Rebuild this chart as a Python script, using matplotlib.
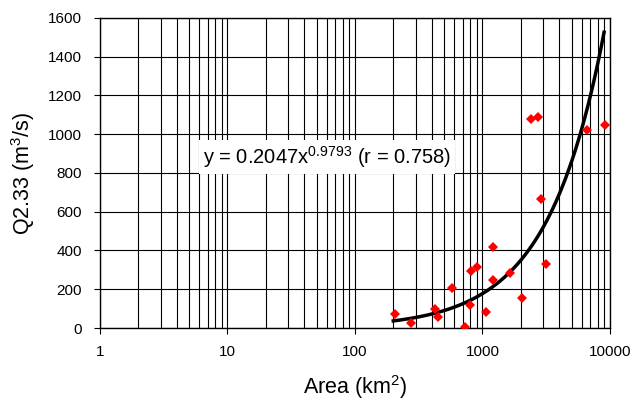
import numpy as np
import matplotlib
matplotlib.use("Agg")
import matplotlib.pyplot as plt
from matplotlib.ticker import LogLocator, NullFormatter

plt.rcParams['font.family'] = ['Liberation Sans', 'DejaVu Sans']
plt.rcParams['mathtext.fontset'] = 'custom'
plt.rcParams['mathtext.rm'] = 'Liberation Sans'
plt.rcParams['mathtext.it'] = 'Liberation Sans'

# Data
area = [206, 275, 424, 448, 576, 729, 798, 813, 906, 1065, 1209, 1209,
        1643, 2042, 2400, 2723, 2876, 3148, 6607, 9140]
q233 = [70, 26, 98, 57, 206, 5, 119, 294, 315, 83, 418, 248,
        284, 155, 1079, 1089, 666, 330, 1022, 1048]
coef_a = 0.2047
coef_b = 0.9793
fit_range = [200, 9000]
x_ticks = [1, 10, 100, 1000, 10000]
y_ticks = [0, 200, 400, 600, 800, 1000, 1200, 1400, 1600]

fig = plt.figure(figsize=(6.36, 4.05), dpi=100)
ax = fig.add_axes([0.157, 0.190, 0.802, 0.766])

ax.set_xscale('log')
ax.set_xlim(1, 10000)
ax.set_ylim(0, 1600)

xf = np.logspace(np.log10(fit_range[0]), np.log10(fit_range[1]), 200)
yf = coef_a * xf ** coef_b

ax.set_xticks(x_ticks)
ax.set_xticklabels([str(t) for t in x_ticks])
ax.xaxis.set_minor_locator(LogLocator(base=10, subs=np.arange(2, 10)))
ax.xaxis.set_minor_formatter(NullFormatter())
ax.set_yticks(y_ticks)

ax.grid(True, which='major', color='black', linewidth=0.8)
ax.grid(True, which='minor', axis='x', color='black', linewidth=0.8)
ax.set_axisbelow(True)

ax.plot(xf, yf, color='black', linewidth=2.5, zorder=3)
ax.plot(area, q233, linestyle='none', marker='D', color='red',
        markersize=5, markeredgewidth=0, zorder=4)

ax.tick_params(axis='both', which='major', direction='out', length=4,
               labelsize=11, color='black')
ax.tick_params(axis='y', which='major', pad=9)
ax.tick_params(axis='x', which='minor', length=0)
ax.tick_params(axis='x', which='major', pad=8)
for s in ax.spines.values():
    s.set_color('black')
    s.set_linewidth(1.0)

ax.set_xlabel(r'Area (km$^{2}$)', fontsize=15.5, labelpad=10)
ax.set_ylabel(r'Q2.33 (m$^{3}$/s)', fontsize=15.5, labelpad=8)

ax.text(0.319, 0.613, r'y = 0.2047x$^{0.9793}$ (r = 0.758)', transform=fig.transFigure,
        fontsize=14.5, va='center', ha='left', zorder=5,
        bbox=dict(facecolor='white', edgecolor='none', pad=3))

fig.savefig('out.png', dpi=100)
